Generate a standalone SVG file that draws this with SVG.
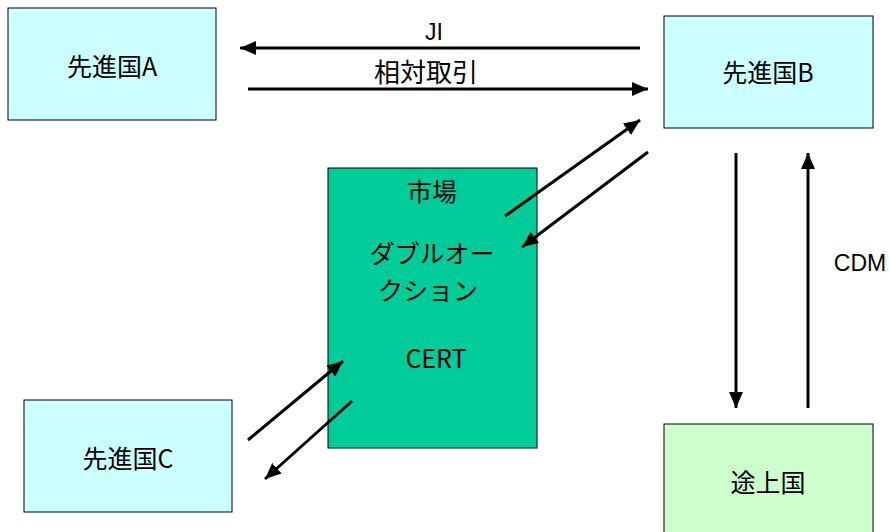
<svg xmlns="http://www.w3.org/2000/svg" width="890" height="532" viewBox="0 0 890 532">
<defs>
<marker id="ah" markerUnits="userSpaceOnUse" markerWidth="16" markerHeight="14" refX="16" refY="7" orient="auto">
<path d="M0,0 L16,7 L0,14 Z" fill="#000"/>
</marker>
<style>
.box{stroke:#000;stroke-width:1}
.dev{fill:#CCFFFF}
.jp{font-family:"Noto Sans CJK JP","Noto Sans",sans-serif;font-size:25px;fill:#000;text-anchor:middle}
.lat{font-family:"Liberation Sans",Arial,sans-serif;font-size:23px;fill:#000;text-anchor:middle}
.arr{stroke:#000;stroke-width:3;fill:none;marker-end:url(#ah)}
</style>
</defs>
<rect width="890" height="532" fill="#fff"/>
<g id="nodeA"><rect class="box dev" x="8" y="8" width="208" height="112"/><text class="jp" x="112" y="76">先進国A</text></g>
<g id="nodeB"><rect class="box dev" x="664" y="16" width="209" height="112"/><text class="jp" x="768" y="82">先進国B</text></g>
<g id="nodeC"><rect class="box dev" x="24" y="400" width="208" height="112"/><text class="jp" x="128" y="468">先進国C</text></g>
<g id="market"><rect class="box" fill="#00CC99" x="328" y="168" width="209" height="280"/>
<text class="jp" x="432" y="201">市場</text>
<text class="jp"><tspan x="432" y="263">ダブルオー</tspan><tspan x="428" y="300">クション</tspan></text>
<text class="jp" x="436" y="368">CERT</text>
</g>
<g id="developing"><rect class="box" fill="#CCFFCC" x="664" y="424" width="209" height="120"/><text class="jp" x="768" y="492">途上国</text></g>
<g id="connectors">
<line class="arr" x1="640" y1="48" x2="240" y2="48"/>
<line class="arr" x1="248" y1="89" x2="648" y2="89"/>
<line class="arr" x1="505" y1="216" x2="640" y2="120"/>
<line class="arr" x1="648" y1="152" x2="522" y2="247"/>
<line class="arr" x1="248" y1="440" x2="343" y2="361"/>
<line class="arr" x1="352" y1="401" x2="265" y2="479"/>
<line class="arr" x1="736" y1="153" x2="736" y2="408"/>
<line class="arr" x1="808" y1="408" x2="808" y2="153"/>
</g>
<text class="lat" x="434" y="40">JI</text>
<text class="jp" x="426" y="82" style="font-size:26px">相対取引</text>
<text class="lat" x="860" y="271">CDM</text>
</svg>
